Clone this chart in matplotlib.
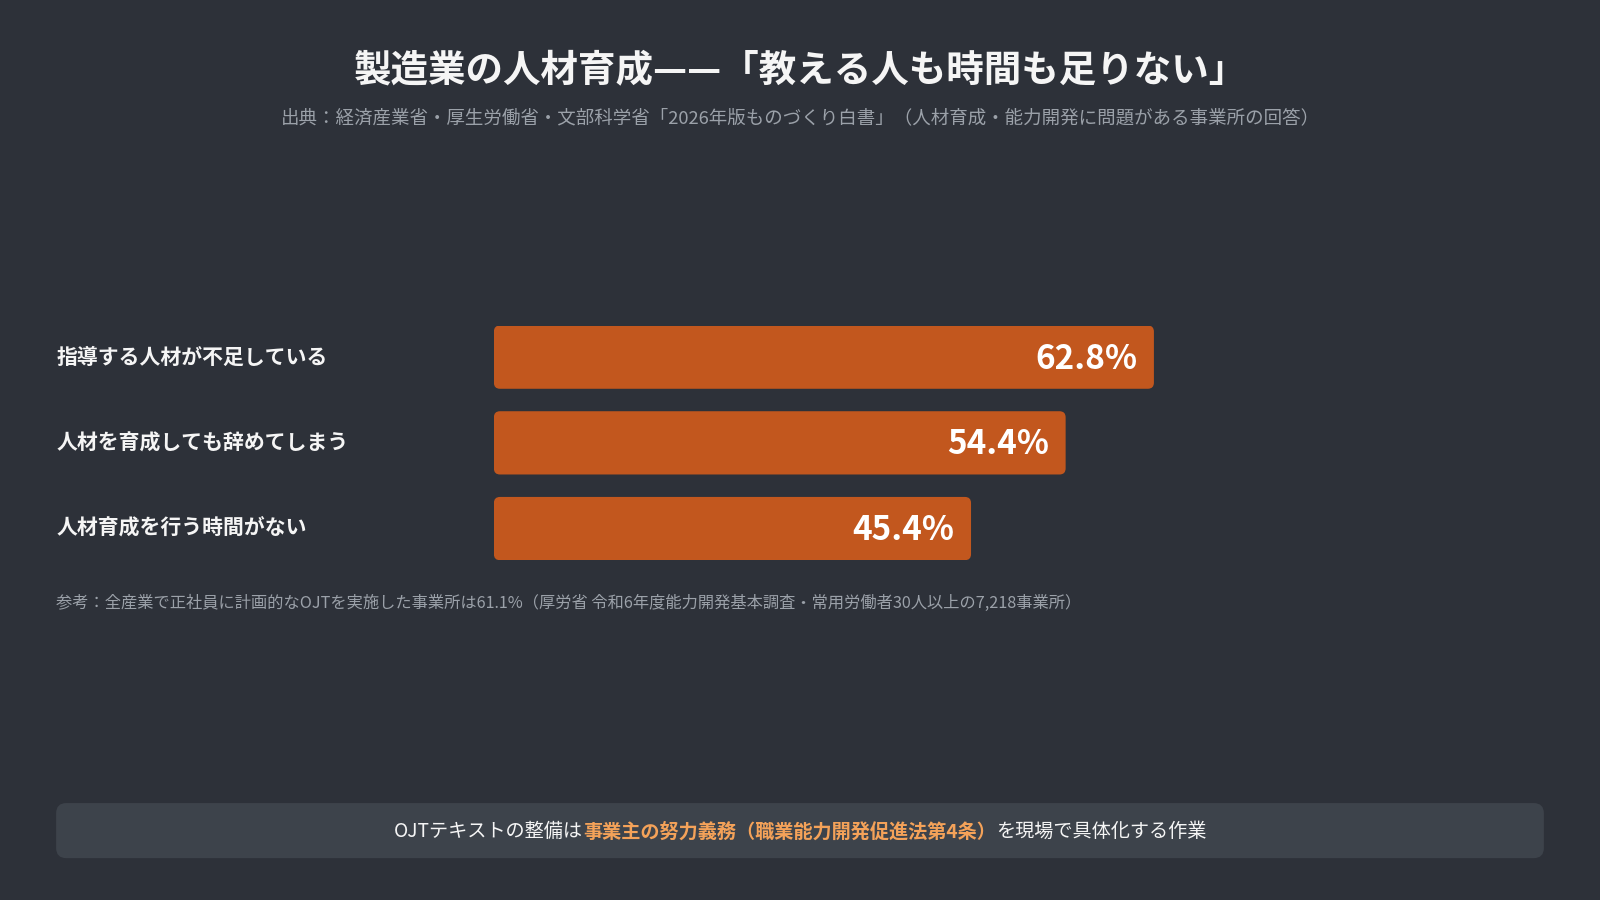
import matplotlib.pyplot as plt
from matplotlib.patches import FancyBboxPatch

plt.rcParams['font.family'] = ['Noto Sans CJK JP', 'DejaVu Sans']

title = '製造業の人材育成——「教える人も時間も足りない」'
subtitle = '出典：経済産業省・厚生労働省・文部科学省「2026年版ものづくり白書」（人材育成・能力開発に問題がある事業所の回答）'
categories = ['指導する人材が不足している', '人材を育成しても辞めてしまう', '人材育成を行う時間がない']
values = [62.8, 54.4, 45.4]
note = '参考：全産業で正社員に計画的なOJTを実施した事業所は61.1%（厚労省 令和6年度能力開発基本調査・常用労働者30人以上の7,218事業所）'
footer_parts = ['OJTテキストの整備は', '事業主の努力義務（職業能力開発促進法第4条）', 'を現場で具体化する作業']

BG = '#2d3139'
BAR = '#c2571e'
BOX = '#3d434b'
HILITE = '#f4a259'
GREY = '#9ba1a9'

W, H = 1568, 882  # layout grid of the reference

fig = plt.figure(figsize=(16, 9), dpi=100, facecolor=BG)

# overlay axes in reference pixel coords
ov = fig.add_axes([0, 0, 1, 1])
ov.set_xlim(0, W)
ov.set_ylim(H, 0)
ov.axis('off')

ov.text(W / 2, 68, title, ha='center', va='center', fontsize=27, fontweight='bold', color='#f5f5f5')
ov.text(W / 2, 116, subtitle, ha='center', va='center', fontsize=13.3, color=GREY)

# bar axes
x0, x1 = 484, 1514
ytop, ybot = 319, 549
ax = fig.add_axes([x0 / W, 1 - ybot / H, (x1 - x0) / W, (ybot - ytop) / H])
ax.set_facecolor('none')
pitch = 84
hgt = 62 / pitch
bars = ax.barh(range(len(values)), values, height=hgt, color=BAR)
ax.set_xlim(0, 100)
ax.set_ylim(len(values) - 1 + hgt / 2, -hgt / 2)
ax.axis('off')

# rounded corners
px_x = 100 / (x1 - x0)
px_y = 1 / pitch
for b in bars:
    b.set_visible(False)
    r = FancyBboxPatch((b.get_x(), b.get_y()), b.get_width(), b.get_height(),
                       boxstyle=f'round,pad=0,rounding_size={6 * px_x}',
                       mutation_aspect=px_y / px_x, facecolor=BAR, edgecolor='none')
    ax.add_patch(r)

for i, (cat, v) in enumerate(zip(categories, values)):
    ov.text(55, 350 + i * pitch, cat, ha='left', va='center', fontsize=15, fontweight='bold', color='#f5f5f5')
    ax.text(v - 16 * px_x, i + 2 * px_y, f'{v:.1f}%', ha='right', va='center', fontsize=24, fontweight='bold', color='white')

ov.text(55, 591, note, ha='left', va='center', fontsize=11.7, color=GREY)

# footer box
box = FancyBboxPatch((55, 787), 1513 - 55, 54, boxstyle='round,pad=0,rounding_size=10',
                     facecolor=BOX, edgecolor='none')
ov.add_patch(box)

renderer = fig.canvas.get_renderer()
styles = [('#f5f5f5', 'normal'), (HILITE, 'bold'), ('#f5f5f5', 'normal')]
texts = []
for part, (c, w) in zip(footer_parts, styles):
    texts.append(ov.text(0, 815, part, ha='left', va='center', fontsize=13.8, color=c, fontweight=w))
widths = [t.get_window_extent(renderer).width * W / 1600 for t in texts]
x = W / 2 - sum(widths) / 2
for t, w in zip(texts, widths):
    t.set_x(x)
    x += w

fig.savefig('out.png', dpi=100, facecolor=BG)
